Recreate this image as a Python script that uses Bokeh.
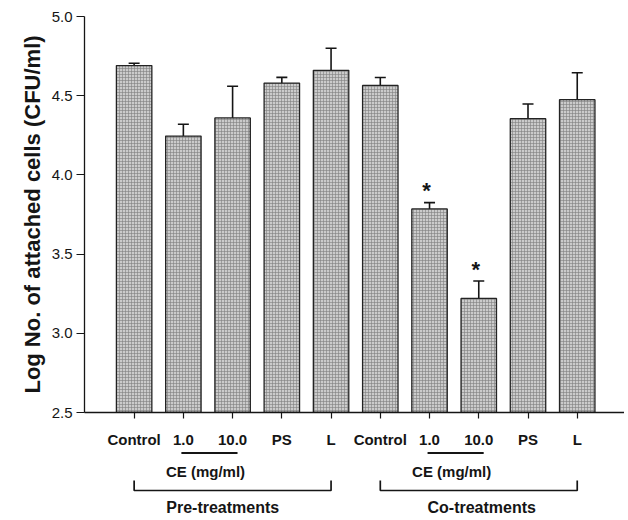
from bokeh.plotting import figure
from bokeh.layouts import column
from bokeh.models import Range1d, FixedTicker, ColumnDataSource, Whisker, TeeHead, PrintfTickFormatter
from bokeh.core.properties import value
from bokeh.embed import file_html
from bokeh.resources import INLINE

# ---- data ----
categories = ["Control", "1.0", "10.0", "PS", "L", "Control", "1.0", "10.0", "PS", "L"]
means = [4.69, 4.245, 4.36, 4.58, 4.66, 4.565, 3.785, 3.22, 4.355, 4.475]
errors = [0.015, 0.075, 0.20, 0.036, 0.14, 0.05, 0.04, 0.11, 0.093, 0.17]
significant = [False, False, False, False, False, False, True, True, False, False]
y_ticks = [2.5, 3.0, 3.5, 4.0, 4.5, 5.0]
group_names = ["Pre-treatments", "Co-treatments"]
group_first = [0, 5]
group_last = [4, 9]
ce_label = "CE (mg/ml)"
ce_first = [1, 6]
ce_last = [2, 7]

FONT = "Liberation Sans"
INK = "#151515"
W = 624
LEFT = 84
xs = list(range(len(categories)))
xr = Range1d(-1.008, 9.96)

# ---- main chart ----
p = figure(width=W, height=450, x_range=xr, y_range=Range1d(y_ticks[0], y_ticks[-1]),
           output_backend="svg", toolbar_location=None,
           min_border_left=LEFT, min_border_right=0, min_border_top=16, min_border_bottom=37)
p.grid.visible = False
p.outline_line_color = None

ax = p.yaxis[0]
ax.ticker = FixedTicker(ticks=y_ticks)
ax.formatter = PrintfTickFormatter(format="%.1f")
ax.minor_tick_line_color = None
ax.major_tick_in = 0
ax.major_tick_out = 8
ax.axis_line_width = 1.3
ax.axis_line_color = INK
ax.major_tick_line_color = INK
ax.major_tick_line_width = 1.2
ax.major_label_text_font = FONT
ax.major_label_text_font_size = "15px"
ax.major_label_text_color = INK
ax.major_label_standoff = 4
ax.axis_label = "Log No. of attached cells (CFU/ml)"
ax.axis_label_text_font = FONT
ax.axis_label_text_font_size = "22px"
ax.axis_label_text_font_style = "bold"
ax.axis_label_text_color = INK
ax.axis_label_standoff = 4

bx = p.xaxis[0]
bx.ticker = FixedTicker(ticks=xs)
bx.major_label_overrides = {i: c for i, c in enumerate(categories)}
bx.minor_tick_line_color = None
bx.major_tick_in = 0
bx.major_tick_out = 6
bx.axis_line_width = 1.3
bx.axis_line_color = INK
bx.major_tick_line_color = INK
bx.major_tick_line_width = 1.2
bx.major_label_text_font = FONT
bx.major_label_text_font_size = "15px"
bx.major_label_text_font_style = "bold"
bx.major_label_text_color = INK
bx.major_label_standoff = 12

src = ColumnDataSource(dict(x=xs, top=means,
                            upper=[m + e for m, e in zip(means, errors)],
                            lower=[m - e for m, e in zip(means, errors)]))
p.vbar(x="x", top="top", bottom=y_ticks[0], width=0.72, source=src,
       fill_color="#cbcbcb", line_color="#232323", line_width=1.3,
       hatch_pattern="+", hatch_color="#808080", hatch_scale=3, hatch_weight=0.6)

p.add_layout(Whisker(source=src, base="x", upper="upper", lower="lower",
                     line_color=INK, line_width=1.6,
                     upper_head=TeeHead(size=11, line_color=INK, line_width=1.6),
                     lower_head=TeeHead(size=11, line_color=INK, line_width=1.6)))

sx = [x for x, s in zip(xs, significant) if s]
sy = [m + e for m, e, s in zip(means, errors, significant) if s]
p.text(x=sx, y=sy, text=["*"] * len(sx), y_offset=-12, x_offset=-3, text_align="center",
       text_baseline="alphabetic", text_font=value(FONT), text_font_style="bold",
       text_font_size=value("22px"), text_color=INK)

# ---- group annotations under the axis (y = pixels from top of this strip) ----
H2 = 68
q = figure(width=W, height=H2, x_range=xr, y_range=Range1d(H2, 0),
           output_backend="svg", toolbar_location=None,
           x_axis_location=None, y_axis_location=None,
           min_border_left=LEFT, min_border_right=0, min_border_top=0, min_border_bottom=0)
q.grid.visible = False
q.outline_line_color = None

q.segment(x0=[a - 0.04 for a in ce_first], y0=[2.5] * 2,
          x1=[b + 0.1 for b in ce_last], y1=[2.5] * 2,
          line_color=INK, line_width=1.8)
q.text(x=[(a + b) / 2 - 0.05 for a, b in zip(ce_first, ce_last)], y=[20.5] * 2,
       text=[ce_label] * 2, text_align="center", text_baseline="middle",
       text_font=value(FONT), text_font_style="bold", text_font_size=value("15px"),
       text_color=INK)
q.multi_line(xs=[[a, a, b, b] for a, b in zip(group_first, group_last)],
             ys=[[30, 40, 40, 30] for _ in group_first],
             line_color=INK, line_width=1.7)
label_shift = [-0.2, 0.06]
q.text(x=[(a + b) / 2 + d for a, b, d in zip(group_first, group_last, label_shift)],
       y=[57] * 2, text=group_names, text_align="center", text_baseline="middle",
       text_font=value(FONT), text_font_style="bold", text_font_size=value("16px"),
       text_color=INK)

layout = column(p, q, spacing=0)
open("out.html", "w").write(file_html(layout, INLINE))
